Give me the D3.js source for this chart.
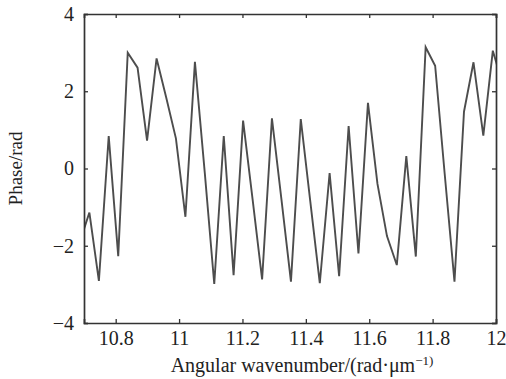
<!DOCTYPE html>
<html>
<head>
<meta charset="utf-8">
<script src="https://d3js.org/d3.v7.min.js"></script>
<style>
body { margin: 0; background: #fff; }
text { font-family: "Liberation Serif", "Times New Roman", serif; fill: #222; }
</style>
</head>
<body>
<script>
//Width and height
var margin = {top: 14, right: 10, bottom: 56, left: 84};
var width = 506 - margin.left - margin.right;
var height = 379 - margin.top - margin.bottom;

// data
var wavenumber = [10.687, 10.717, 10.747, 10.778, 10.808, 10.838, 10.869, 10.899, 10.929, 10.959,
    10.990, 11.020, 11.050, 11.081, 11.111, 11.141, 11.172, 11.202, 11.232, 11.262,
    11.293, 11.323, 11.353, 11.384, 11.414, 11.444, 11.475, 11.505, 11.535, 11.566,
    11.596, 11.626, 11.656, 11.687, 11.717, 11.747, 11.778, 11.808, 11.838, 11.869,
    11.899, 11.929, 11.960, 11.990, 12.020];
var phase = [-1.9, -1.14, -2.91, 0.84, -2.27, 3.0, 2.61, 0.72, 2.85, 1.85,
    0.78, -1.25, 2.76, -0.1, -2.99, 0.84, -2.76, 1.24, -0.8, -2.87,
    1.30, -0.8, -2.93, 1.28, -0.85, -2.97, -0.12, -2.79, 1.10, -2.2,
    1.70, -0.40, -1.75, -2.5, 0.32, -2.28, 3.14, 2.66, -0.13, -2.93,
    1.47, 2.75, 0.85, 3.05, 2.2];

var xTicks = [10.8, 11, 11.2, 11.4, 11.6, 11.8, 12];
var yTicks = [-4, -2, 0, 2, 4];

var svg = d3.select("body")
    .append("svg")
    .attr("width", width + margin.left + margin.right)
    .attr("height", height + margin.top + margin.bottom)
    .append("g")
    .attr("transform", "translate(" + margin.left + "," + margin.top + ")");

var x = d3.scaleLinear().domain([10.7, 12]).range([0, width]);
var y = d3.scaleLinear().domain([-4, 4]).range([height, 0]);

svg.append("clipPath").attr("id", "clip")
    .append("rect").attr("width", width).attr("height", height);

var line = d3.line()
    .x(function(d, i) { return x(wavenumber[i]); })
    .y(function(d) { return y(d); });

svg.append("path")
    .datum(phase)
    .attr("clip-path", "url(#clip)")
    .attr("fill", "none")
    .attr("stroke", "#4d4d4d")
    .attr("stroke-width", 1.9)
    .attr("stroke-linejoin", "miter")
    .attr("d", line);

// axes, matlab style box with inward ticks
var fmt = function(d) { return d < 0 ? "\u2212" + Math.abs(d) : d; };

var gx = svg.append("g").attr("transform", "translate(0," + height + ")")
    .call(d3.axisBottom(x).tickValues(xTicks).tickSize(-4).tickPadding(8).tickFormat(fmt));
var gx2 = svg.append("g")
    .call(d3.axisTop(x).tickValues(xTicks).tickSize(-4).tickFormat(""));
var gy = svg.append("g")
    .call(d3.axisLeft(y).tickValues(yTicks).tickSize(-4).tickPadding(10).tickFormat(fmt));
var gy2 = svg.append("g").attr("transform", "translate(" + width + ",0)")
    .call(d3.axisRight(y).tickValues(yTicks).tickSize(-4).tickFormat(""));

[gx, gx2, gy, gy2].forEach(function(g) {
    g.select(".domain").attr("stroke", "#333").attr("stroke-width", 1.7);
    g.selectAll(".tick line").attr("stroke", "#333").attr("stroke-width", 1.3);
    g.selectAll("text").attr("font-size", 20).attr("fill", "#222")
        .style("font-family", "'Liberation Serif', serif");
});

// labels
var xl = svg.append("text")
    .attr("x", width / 2 + 12)
    .attr("y", height + 49)
    .attr("text-anchor", "middle")
    .attr("font-size", 20);
xl.append("tspan").text("Angular wavenumber/(rad\u00b7\u03bcm");
xl.append("tspan").attr("font-size", 13).attr("dy", -7).text("\u22121)");

svg.append("text")
    .attr("transform", "translate(-62," + (height / 2) + ") rotate(-90)")
    .attr("text-anchor", "middle")
    .attr("font-size", 19)
    .text("Phase/rad");
</script>
</body>
</html>
